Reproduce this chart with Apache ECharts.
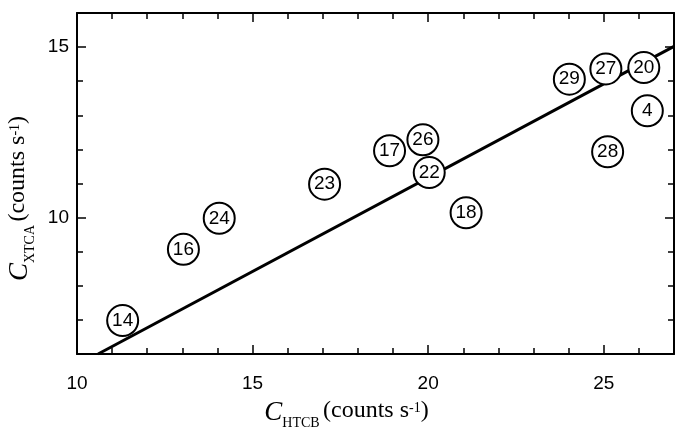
<!DOCTYPE html>
<html style="height: 100%">
<head>
  <meta charset="utf-8">
  <title>xtca-htcb</title>
  <script src="https://cdn.jsdelivr.net/npm/echarts@6/dist/echarts.min.js"></script>
</head>
<body style="height: 100%; margin: 0; background: #fff">
<div id="main" style="width: 675px; height: 428px"></div>

<script type="text/javascript">
  // sample numbers and their count rates
  var ids = ['14', '16', '24', '23', '17', '26', '22', '18', '29', '27', '20', '4', '28'];
  var htcb = [11.3, 13.03, 14.05, 17.05, 18.9, 19.85, 20.03, 21.08, 24.02, 25.06, 26.14, 26.24, 25.11];
  var xtca = [6.98, 9.07, 9.98, 10.98, 11.96, 12.28, 11.32, 10.14, 14.06, 14.36, 14.4, 13.13, 11.93];

  // fitted line end points
  var fitX = [10.6, 27];
  var fitY = [6, 15.02];

  // axes
  var xMin = 10, xMax = 27;
  var yMin = 6, yMax = 16;
  var xMajor = [10, 15, 20, 25];
  var yMajor = [10, 15];
  var xMinor = [11, 12, 13, 14, 16, 17, 18, 19, 21, 22, 23, 24, 26];
  var yMinor = [7, 8, 9, 11, 12, 13, 14];

  var pts = [];
  for (var i = 0; i < ids.length; i++) {
    pts.push({value: [htcb[i], xtca[i]], name: ids[i]});
  }
  var fit = [[fitX[0], fitY[0]], [fitX[1], fitY[1]]];

  var numFont = '"Liberation Sans", Arial, sans-serif';
  var serif = '"Liberation Serif", "Times New Roman", serif';
  var nameRich = {
    c: {fontFamily: serif, fontStyle: 'italic', fontSize: 27, lineHeight: 30, verticalAlign: 'top', color: '#000'},
    sub: {fontFamily: serif, fontSize: 14, lineHeight: 14, padding: [17, 0, 0, 0], verticalAlign: 'top', color: '#000'},
    t: {fontFamily: serif, fontSize: 24, lineHeight: 30, verticalAlign: 'top', color: '#000'},
    sup: {fontFamily: serif, fontSize: 14, lineHeight: 14, padding: [2, 0, 0, 0], verticalAlign: 'top', color: '#000'}
  };

  function frameAxis(pos, min, max, minor, major, isMain) {
    return [{
      type: 'value', position: pos, min: min, max: max,
      axisLine: {show: true, lineStyle: {color: '#000', width: 2}},
      axisTick: {show: true, inside: true, length: 6, customValues: minor, lineStyle: {color: '#000', width: 1.5}},
      axisLabel: {show: false},
      splitLine: {show: false}
    }, {
      type: 'value', position: pos, min: min, max: max,
      axisLine: {show: false},
      axisTick: {show: true, inside: true, length: 9, customValues: major, lineStyle: {color: '#000', width: 1.5}},
      axisLabel: isMain ? {show: true, customValues: major, color: '#000', fontFamily: numFont, fontSize: 19} : {show: false},
      splitLine: {show: false}
    }];
  }

  var xs = frameAxis('bottom', xMin, xMax, xMinor, xMajor, true).concat(frameAxis('top', xMin, xMax, xMinor, xMajor, false));
  var ys = frameAxis('left', yMin, yMax, yMinor, yMajor, true).concat(frameAxis('right', yMin, yMax, yMinor, yMajor, false));
  xs[1].axisLabel.margin = 20;
  xs[1].name = '{c|C}{sub|HTCB} {t|(counts s}{sup|-1}{t|)}';
  xs[1].nameLocation = 'middle';
  xs[1].nameGap = 45;
  xs[1].nameTextStyle = {rich: nameRich, padding: [0, 58, 0, 0]};
  ys[1].axisLabel.margin = 8;
  ys[1].name = '{c|C}{sub|XTCA} {t|(counts s}{sup|-1}{t|)}';
  ys[1].nameLocation = 'middle';
  ys[1].nameRotate = 90;
  ys[1].nameGap = 40;
  ys[1].nameTextStyle = {rich: nameRich, padding: [0, 30, 0, 0]};

  var chart = echarts.init(document.getElementById('main'));
  chart.setOption({
    animation: false,
    backgroundColor: '#fff',
    grid: {left: 77, right: 1, top: 13, bottom: 74, outerBoundsMode: 'none'},
    xAxis: xs,
    yAxis: ys,
    series: [{
      type: 'line',
      data: fit,
      symbol: 'none',
      lineStyle: {color: '#000', width: 3},
      z: 2
    }, {
      type: 'scatter',
      data: pts,
      symbol: 'circle',
      symbolSize: 31,
      itemStyle: {color: '#fff', borderColor: '#000', borderWidth: 2, opacity: 1},
      label: {show: true, position: 'inside', formatter: '{b}', color: '#000', fontFamily: numFont, fontSize: 19},
      z: 3
    }]
  });
</script>
</body>
</html>
